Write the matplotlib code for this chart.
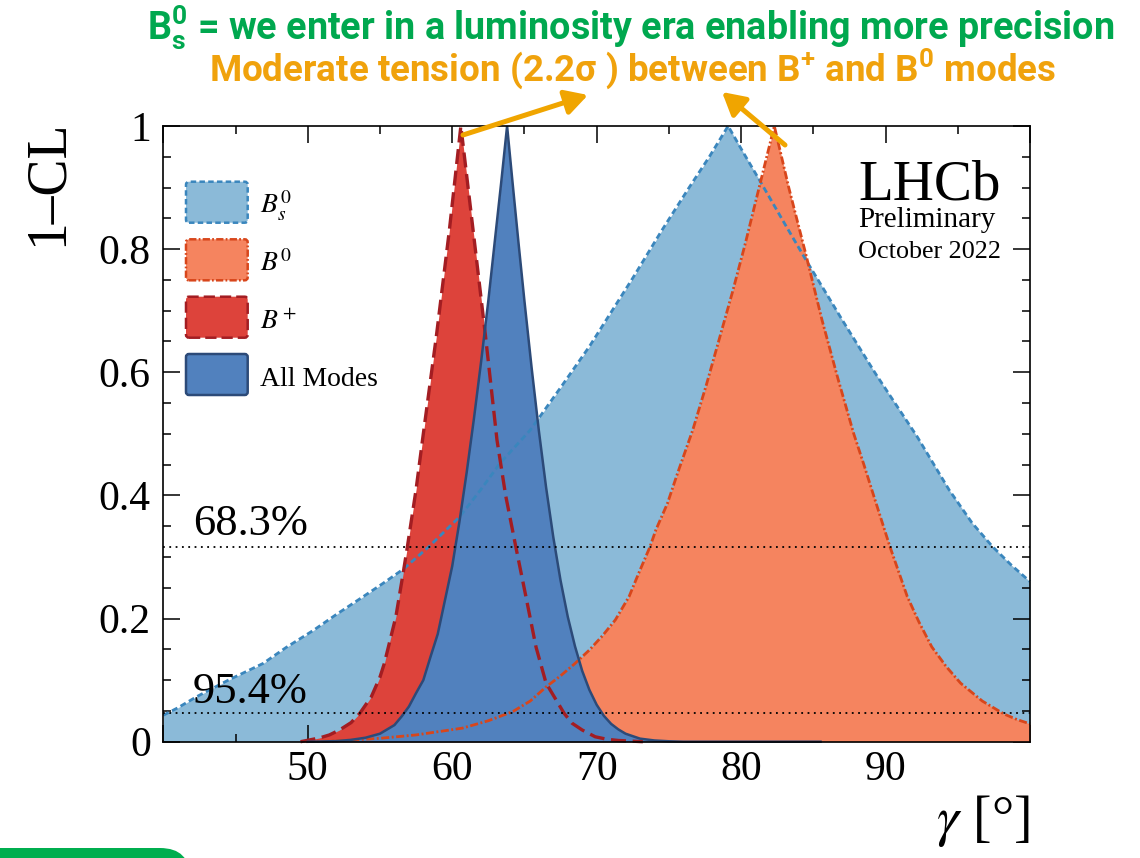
"""
gamma combination: 1-CL profiles per B mode and the combined result.
"""
import matplotlib
matplotlib.use("Agg")
import matplotlib.pyplot as plt
from matplotlib.patches import FancyBboxPatch, FancyArrowPatch
from matplotlib.ticker import MultipleLocator

plt.rcParams["font.family"] = ["Liberation Serif", "DejaVu Serif"]
plt.rcParams["mathtext.fontset"] = "stix"
plt.rcParams["mathtext.rm"] = "Roboto:bold"
plt.rcParams["mathtext.bf"] = "Roboto:bold"
plt.rcParams["mathtext.it"] = "Roboto:bold:italic"

# 1-CL profiles (gamma in degrees)
gamma_bs = [40.0, 41.0, 42.3, 44.5, 46.9, 48.5, 50.4, 52.0, 53.8, 55.2, 56.6, 58.4, 60.5, 62.0,
            63.3, 65.4, 67.5, 69.5, 72.5, 74.5, 76.4, 77.8, 79.1, 80.2, 81.4, 83.0, 84.5, 86.0,
            87.0, 89.3, 92.2, 94.4, 96.0, 97.4, 98.7, 100.0]
cl_bs = [0.043, 0.055, 0.073, 0.100, 0.127, 0.153, 0.181, 0.207, 0.235, 0.257, 0.280, 0.317, 0.365,
         0.410, 0.452, 0.506, 0.575, 0.642, 0.753, 0.830, 0.900, 0.950, 1.000, 0.955, 0.907, 0.842,
         0.782, 0.724, 0.685, 0.598, 0.495, 0.409, 0.355, 0.317, 0.287, 0.260]

gamma_b0 = [49.9, 52.5, 55.0, 57.5, 60.7, 62.5, 64.2, 65.4, 66.5, 67.5, 68.5, 69.5, 70.4, 71.3,
            72.25, 72.9, 73.7, 74.1, 74.9, 75.6, 76.65, 77.6, 78.5, 79.4, 80.3, 81.3, 82.3, 83.3,
            84.5, 85.6, 86.7, 87.8, 88.5, 89.2, 90.3, 91.5, 92.3, 93.2, 94.2, 95.2, 96.7, 98.2,
            99.1, 100.0]
cl_b0 = [0.0, 0.002, 0.0055, 0.011, 0.022, 0.034, 0.049, 0.066, 0.089, 0.107, 0.127, 0.149, 0.172,
         0.198, 0.236, 0.273, 0.317, 0.344, 0.387, 0.436, 0.506, 0.580, 0.655, 0.730, 0.810, 0.905,
         1.000, 0.900, 0.790, 0.685, 0.590, 0.500, 0.450, 0.398, 0.317, 0.236, 0.195, 0.154, 0.122,
         0.095, 0.066, 0.045, 0.036, 0.029]

gamma_bp = [49.5, 50.8, 51.5, 52.2, 53.0, 53.6, 54.4, 55.0, 55.3, 56.1, 56.6, 56.9, 57.5, 58.0,
            58.9, 59.8, 60.6, 61.5, 62.3, 63.1, 63.7, 64.4, 65.1, 65.8, 66.5, 67.75, 68.3, 69.0,
            69.9, 70.7, 71.5, 73.2]
cl_bp = [0.0, 0.006, 0.011, 0.019, 0.031, 0.046, 0.073, 0.105, 0.127, 0.203, 0.273, 0.317, 0.410,
         0.500, 0.658, 0.830, 1.000, 0.820, 0.660, 0.490, 0.400, 0.317, 0.236, 0.154, 0.095, 0.046,
         0.030, 0.019, 0.008, 0.004, 0.002, 0.0]

gamma_all = [50.0, 51.0, 52.0, 53.0, 54.0, 55.0, 55.5, 56.0, 56.5, 57.0, 57.5, 58.0, 58.5, 59.0,
             59.5, 60.0, 60.5, 61.0, 61.5, 62.0, 62.5, 63.0, 63.4, 63.8, 64.2, 64.6, 65.0, 65.5,
             66.0, 66.5, 67.0, 67.5, 68.0, 68.5, 69.0, 69.5, 70.0, 70.5, 71.0, 71.5, 72.0, 73.0,
             74.0, 75.0, 76.0, 85.5]
cl_all = [0.0, 0.0004, 0.001, 0.003, 0.0065, 0.013, 0.020, 0.027, 0.041, 0.057, 0.079, 0.100, 0.138,
          0.175, 0.230, 0.285, 0.357, 0.437, 0.524, 0.617, 0.716, 0.824, 0.910, 1.000, 0.903, 0.808,
          0.716, 0.607, 0.505, 0.413, 0.332, 0.262, 0.203, 0.155, 0.115, 0.084, 0.060, 0.042, 0.029,
          0.020, 0.013, 0.005, 0.002, 0.0007, 0.0, 0.0]

labels = [r"$B_s^0$", r"$B^0$", r"$B^+$", "All Modes"]
cl_levels = [0.317, 0.046]
cl_texts = ["68.3%", "95.4%"]

# style per series: fill, edge, linestyle, linewidth
styles = [
    ("#8BBAD8", "#3A86BD", (0, (2.2, 1.3)), 2.0),
    ("#F5845F", "#D8461B", (0, (2.9, 0.9, 0.7, 0.9)), 2.0),
    ("#DD433B", "#A31D22", (0, (4.5, 2.0)), 2.4),
    ("#5181BE", "#2C4A78", "-", 1.8),
]
series = [(gamma_bs, cl_bs), (gamma_b0, cl_b0), (gamma_bp, cl_bp), (gamma_all, cl_all)]

W, H = 1140, 858


def fx(x): return x / W
def fy(y): return 1 - y / H
def inch(x, y): return (x / 100.0, (H - y) / 100.0)


fig = plt.figure(figsize=(W / 100, H / 100), dpi=100)
ax = fig.add_axes([fx(163.3), fy(741.7), (1030 - 163.3) / W, (741.7 - 126) / H])

for i, ((g, c), (fc, ec, ls, lw)) in enumerate(zip(series, styles)):
    ax.fill_between(g, c, 0, color=fc, lw=0, zorder=1 + i)
for i, ((g, c), (fc, ec, ls, lw)) in enumerate(zip(series, styles)):
    ax.plot(g, c, color=ec, ls=ls, lw=lw, zorder=6 + i, clip_on=False,
            dash_joinstyle="miter", solid_joinstyle="miter")

for lev in cl_levels:
    ax.axhline(lev, color="black", ls=(0, (1, 2.5)), lw=1.3, zorder=12)

ax.set_xlim(40, 100)
ax.set_ylim(0, 1)
ax.set_xticks([40, 50, 60, 70, 80, 90, 100])
ax.set_xticklabels(["", "50", "60", "70", "80", "90", ""])
ax.set_yticks([0, 0.2, 0.4, 0.6, 0.8, 1.0])
ax.set_yticklabels(["0", "0.2", "0.4", "0.6", "0.8", "1"])
ax.xaxis.set_minor_locator(MultipleLocator(5))
ax.yaxis.set_minor_locator(MultipleLocator(0.05))
ax.tick_params(which="both", direction="in", top=True, right=True, width=1.1, colors="black",
               labelsize=30)
ax.tick_params(which="major", length=12.5)
ax.tick_params(which="minor", length=6)
ax.tick_params(axis="y", pad=9)
ax.tick_params(axis="x", pad=6)
for s in ax.spines.values():
    s.set_linewidth(1.2)
    s.set_zorder(20)

# axis titles
fig.text(fx(48), fy(119), "1\u2013CL", rotation=90, ha="center", va="top", fontsize=40)
fig.text(fx(1030), fy(835), r"$\gamma$ [" + "\u00b0" + "]", ha="right", va="baseline", fontsize=40)

# confidence level labels
fig.text(fx(193), fy(535), cl_texts[0], ha="left", va="baseline", fontsize=32)
fig.text(fx(193), fy(702.7), cl_texts[1], ha="left", va="baseline", fontsize=32)

# LHCb tag
fig.text(fx(858), fy(199), "LHCb", ha="left", va="baseline", fontsize=41)
fig.text(fx(858), fy(227), "Preliminary", ha="left", va="baseline", fontsize=21)
fig.text(fx(858), fy(257.5), "October 2022", ha="left", va="baseline", fontsize=18.8)

# legend boxes
box_tops = [181.7, 239.3, 296.7, 354.0]
for top, lab, (fc, ec, ls, lw) in zip(box_tops, labels, styles):
    x0, y0 = inch(186, top + 41)
    patch = FancyBboxPatch((x0, y0), 0.617, 0.41, boxstyle="round,pad=0,rounding_size=0.03",
                           transform=fig.dpi_scale_trans, fc=fc, ec=ec, ls=ls, lw=1.8)
    fig.add_artist(patch)
    fig.text(fx(260), fy(top + 20.5 + 11.5), lab, ha="left", va="baseline", fontsize=20)

# headline text
GREEN = "#00A84F"
ORANGE = "#F0A20C"
fig.text(fx(630.5), fy(39.5), r"$\mathbf{B_s^0}$ = we enter in a luminosity era enabling more precision",
         ha="center", va="baseline", fontsize=27.2, fontweight="bold", family="Roboto", color=GREEN,
         math_fontfamily="custom")
fig.text(fx(632.5), fy(81),
         r"Moderate tension (2.2σ ) between $\mathbf{B}^{+}$ and $\mathbf{B}^{\mathbf{0}}$ modes",
         ha="center", va="baseline", fontsize=26.5, fontweight="bold", family="Roboto", color=ORANGE,
         math_fontfamily="custom")

for tail, head in [((463, 135), (588, 95)), ((785, 145), (722, 92))]:
    arr = FancyArrowPatch(inch(*tail), inch(*head), transform=fig.dpi_scale_trans,
                          arrowstyle="-|>,head_length=0.9,head_width=0.5", mutation_scale=15,
                          lw=3.6, color="#F0A500", shrinkA=0, shrinkB=0)
    fig.add_artist(arr)

# green tab at the bottom left
fig.add_artist(FancyBboxPatch((-0.4, -0.42), 2.3, 0.52, boxstyle="round,pad=0,rounding_size=0.3",
                              transform=fig.dpi_scale_trans, fc="#00AE4F", ec="none"))

fig.savefig("out.png", dpi=100)
